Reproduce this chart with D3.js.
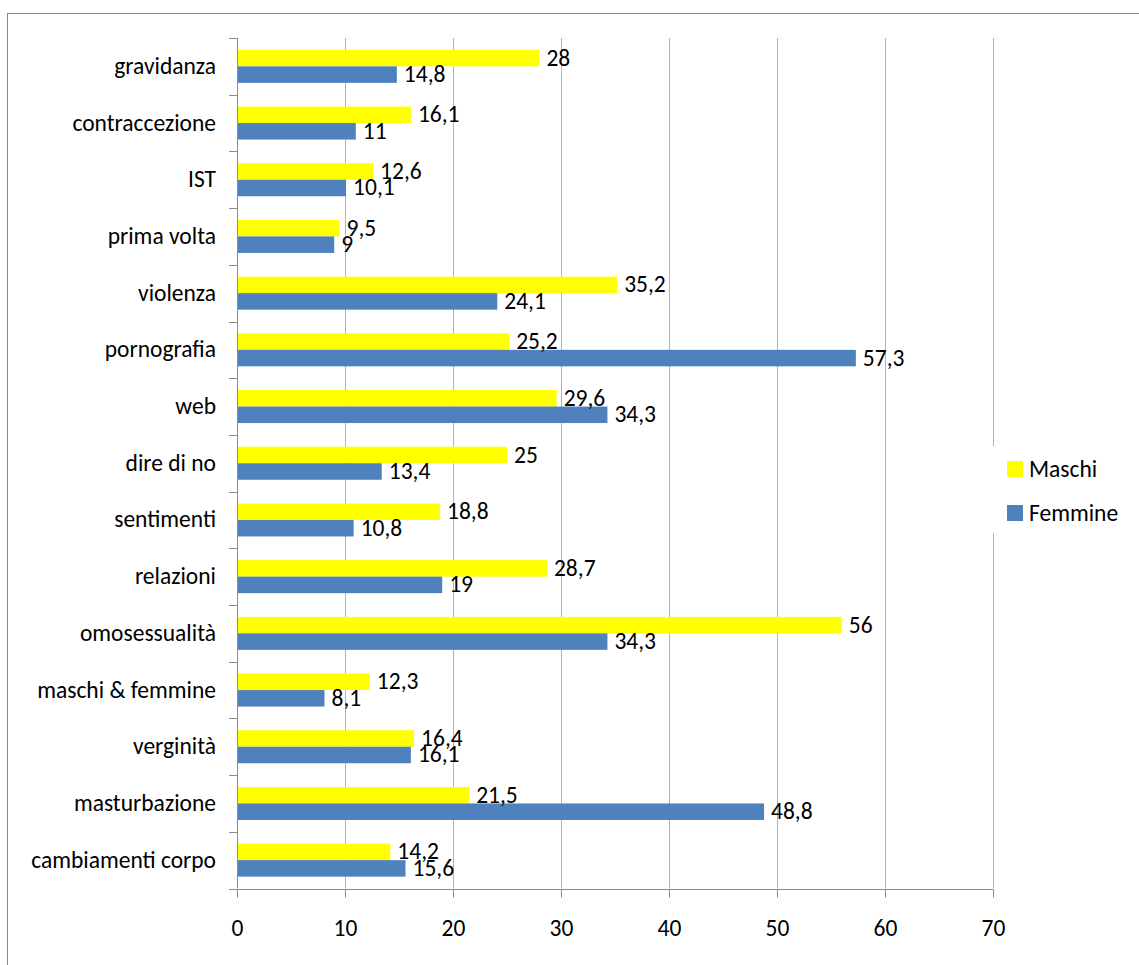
<!DOCTYPE html>
<html><head><meta charset="utf-8">
<script src="https://cdn.jsdelivr.net/npm/d3@7"></script>
<style>
html,body{margin:0;padding:0;background:#fff;}
svg{display:block;}
text{font-family:Carlito, Lato, "Open Sans", sans-serif;}
</style></head>
<body>
<svg id="chart" width="1139" height="965"></svg>
<script>
const categories = ["gravidanza","contraccezione","IST","prima volta","violenza","pornografia","web","dire di no","sentimenti","relazioni","omosessualità","maschi & femmine","verginità","masturbazione","cambiamenti corpo"];
const maschi = [28,16.1,12.6,9.5,35.2,25.2,29.6,25,18.8,28.7,56,12.3,16.4,21.5,14.2];
const femmine = [14.8,11,10.1,9,24.1,57.3,34.3,13.4,10.8,19,34.3,8.1,16.1,48.8,15.6];
const seriesNames = ["Maschi","Femmine"];
const seriesColors = ["#FFFF00","#4F81BD"];
const xTicks = [0,10,20,30,40,50,60,70];

(function(){
const svg = d3.select("#chart");
const pL = 237, pR = 993, pT = 38, pB = 888.5;
const FS = 23.5;
const fmt = v => String(v).replace(".", ",");

// outer frame
svg.append("rect").attr("x",7.5).attr("y",13.5).attr("width",1200).attr("height",1000)
  .attr("fill","none").attr("stroke","#868686").attr("stroke-width",1);

const x = d3.scaleLinear().domain([0,70]).range([pL,pR]);
const y = d3.scaleBand().domain(categories).range([pT,pB]).paddingInner(0.418).paddingOuter(0.209);
const ys = d3.scaleBand().domain(seriesNames).range([0,y.bandwidth()]);

// gridlines
svg.append("g").selectAll("line").data(xTicks.filter(d=>d>0)).join("line")
  .attr("x1",d=>Math.round(x(d))+0.5).attr("x2",d=>Math.round(x(d))+0.5)
  .attr("y1",pT).attr("y2",pB)
  .attr("stroke","#b3b3b3").attr("stroke-width",1);

// bottom axis
const xAxis = d3.axisBottom(x).tickValues(xTicks).tickSize(8).tickPadding(22).tickFormat(d=>d);
const gx = svg.append("g").attr("transform",`translate(0,${Math.round(pB)+0.5})`).call(xAxis);
gx.select(".domain").attr("stroke","#8c8c8c").attr("d",`M${pL},0H${pR}`);
gx.selectAll(".tick line").attr("stroke","#8c8c8c");
gx.selectAll(".tick text").attr("font-size",FS).attr("fill","#000").style("font-family","Carlito, Lato, sans-serif");

// left axis
const boundaries = d3.range(categories.length+1).map(i => pT + i*y.step());
const gy = svg.append("g");
gy.append("line").attr("x1",pL+0.5).attr("x2",pL+0.5).attr("y1",pT).attr("y2",pB)
  .attr("stroke","#8c8c8c");
gy.selectAll("line.tk").data(boundaries).join("line").attr("class","tk")
  .attr("x1",pL-8).attr("x2",pL).attr("y1",d=>Math.round(d)+0.5).attr("y2",d=>Math.round(d)+0.5)
  .attr("stroke","#8c8c8c");
const yAxis = d3.axisLeft(y).tickSize(0).tickPadding(21);
const gyl = svg.append("g").attr("transform",`translate(${pL},0)`).call(yAxis);
gyl.select(".domain").remove();
gyl.selectAll(".tick text").attr("font-size",FS).attr("fill","#000").style("font-family","Carlito, Lato, sans-serif");

// bars
const data = categories.map((c,i)=>({c, vals:[maschi[i], femmine[i]]}));
const groups = svg.append("g").selectAll("g").data(data).join("g")
  .attr("transform",d=>`translate(0,${y(d.c)})`);
groups.selectAll("rect").data(d=>d.vals.map((v,j)=>({v,s:seriesNames[j],j}))).join("rect")
  .attr("x",pL+1).attr("y",d=>ys(d.s)).attr("height",ys.bandwidth())
  .attr("width",d=>x(d.v)-pL-1).attr("fill",d=>seriesColors[d.j]);
groups.selectAll("text").data(d=>d.vals.map((v,j)=>({v,s:seriesNames[j],j}))).join("text")
  .attr("x",d=>x(d.v)+7).attr("y",d=>ys(d.s)+ys.bandwidth()/2-0.5)
  .attr("dominant-baseline","central").attr("font-size",FS).attr("fill","#000")
  .text(d=>fmt(d.v));

// legend
const lg = svg.append("g");
lg.append("rect").attr("x",985).attr("y",446).attr("width",150).attr("height",87).attr("fill","#fff");
seriesNames.forEach((s,i)=>{
  const yy = 461 + i*44;
  lg.append("rect").attr("x",1007).attr("y",yy).attr("width",16).attr("height",16).attr("fill",seriesColors[i]);
  lg.append("text").attr("x",1029).attr("y",yy+16)
    .attr("font-size",FS).attr("fill","#000").text(s);
});
})();
</script>
</body></html>
